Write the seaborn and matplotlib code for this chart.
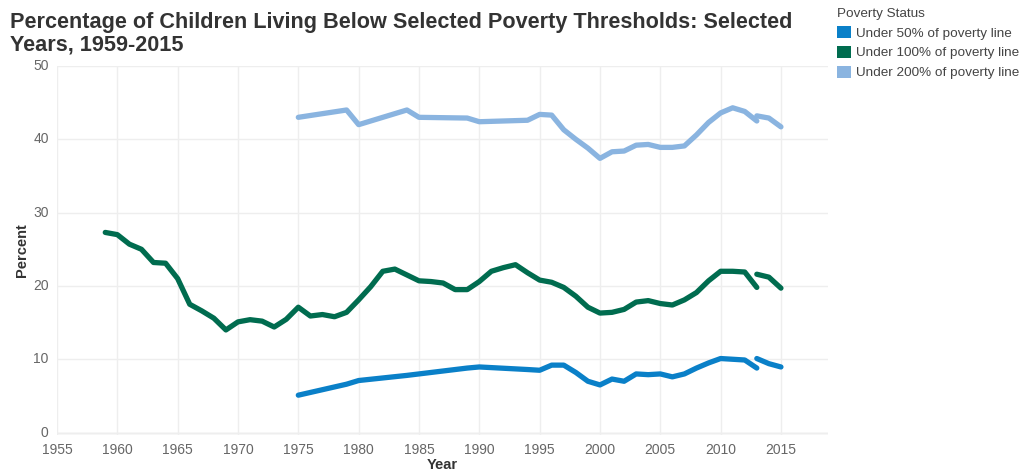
import matplotlib
matplotlib.use("Agg")
import matplotlib.pyplot as plt
import seaborn as sns
import pandas as pd
from matplotlib.patches import Patch

# ---- data ----
status_labels = ["Under 50% of poverty line", "Under 100% of poverty line", "Under 200% of poverty line"]
status_colors = ["#0a80c8", "#006c4f", "#8ab4e0"]

years_sparse = [1975, 1979, 1980, 1984, 1985, 1989, 1990, 1994, 1995, 1996, 1997, 1998, 1999,
                2000, 2001, 2002, 2003, 2004, 2005, 2006, 2007, 2008, 2009, 2010, 2011, 2012, 2013]
under50 = [5.1, 6.6, 7.1, 7.8, 8.0, 8.8, 8.95, 8.6, 8.5, 9.2, 9.2, 8.2, 7.0,
           6.5, 7.3, 7.0, 8.0, 7.9, 8.0, 7.6, 8.0, 8.8, 9.5, 10.1, 10.0, 9.9, 8.8]
under200 = [43.0, 44.0, 42.0, 44.0, 43.0, 42.9, 42.4, 42.6, 43.4, 43.3, 41.3, 40.0, 38.8,
            37.4, 38.3, 38.4, 39.2, 39.3, 38.9, 38.9, 39.1, 40.6, 42.3, 43.6, 44.3, 43.8, 42.5]

years_annual = list(range(1959, 2014))
under100 = [27.3, 27.0, 25.7, 25.0, 23.2, 23.1, 21.0, 17.5, 16.6, 15.6, 14.0,
            15.1, 15.4, 15.2, 14.4, 15.45, 17.1, 15.9, 16.1, 15.8, 16.4,
            18.1, 19.9, 22.0, 22.3, 21.5, 20.7, 20.6, 20.4, 19.5, 19.5,
            20.6, 22.0, 22.5, 22.9, 21.8, 20.8, 20.5, 19.8, 18.6, 17.1,
            16.3, 16.4, 16.8, 17.8, 18.0, 17.6, 17.4, 18.1, 19.1, 20.7,
            22.0, 22.0, 21.9, 19.8]

# revised series (2013 onward, drawn as a separate segment)
years_rev = [2013, 2014, 2015]
under50_rev = [10.1, 9.4, 8.95]
under100_rev = [21.6, 21.2, 19.7]
under200_rev = [43.2, 42.9, 41.7]

rows = []
for y, v in zip(years_sparse, under50):
    rows.append((y, v, status_labels[0], "50a"))
for y, v in zip(years_rev, under50_rev):
    rows.append((y, v, status_labels[0], "50b"))
for y, v in zip(years_annual, under100):
    rows.append((y, v, status_labels[1], "100a"))
for y, v in zip(years_rev, under100_rev):
    rows.append((y, v, status_labels[1], "100b"))
for y, v in zip(years_sparse, under200):
    rows.append((y, v, status_labels[2], "200a"))
for y, v in zip(years_rev, under200_rev):
    rows.append((y, v, status_labels[2], "200b"))
df = pd.DataFrame(rows, columns=["Year", "Percent", "Status", "Segment"])

# ---- plot ----
sns.set_theme(style="white")
plt.rcParams["font.family"] = ["Liberation Sans", "DejaVu Sans"]

fig = plt.figure(figsize=(10.23, 4.72), dpi=100)
ax = fig.add_axes([57 / 1023, 1 - 435 / 472, (828 - 57) / 1023, (435 - 66) / 472])

sns.lineplot(data=df, x="Year", y="Percent", hue="Status", units="Segment",
             estimator=None, hue_order=status_labels, palette=status_colors,
             linewidth=3.8, legend=False, ax=ax, solid_capstyle="round")

ax.set_xlim(1955, 2018.9)
ax.set_ylim(-0.33, 50)
ax.set_xticks(range(1955, 2016, 5))
ax.set_yticks(range(0, 51, 10))
ax.grid(True, color="#eeeeee", linewidth=1)
ax.set_axisbelow(True)
for s in ax.spines.values():
    s.set_visible(False)
ax.axhline(0, color="#e4e4e4", linewidth=1, zorder=0)
ax.tick_params(axis="both", length=0, labelsize=10, labelcolor="#666666", pad=6)
for lbl in ax.get_yticklabels():
    lbl.set_verticalalignment("center")

ax.set_xlabel("Year", fontsize=10.5, fontweight="bold", color="#333333", labelpad=0.5)
ax.set_ylabel("Percent", fontsize=10.5, fontweight="bold", color="#333333", labelpad=3)

fig.text(10 / 1023, 1 - 12 / 472,
         "Percentage of Children Living Below Selected Poverty Thresholds: Selected\nYears, 1959-2015",
         fontsize=15.6, fontweight="bold", color="#333333", va="top", ha="left", linespacing=1.12)

handles = [Patch(facecolor=c, edgecolor="none") for c in status_colors]
leg = fig.legend(handles, status_labels, title="Poverty Status", loc="upper left",
                 bbox_to_anchor=(829 / 1023, 1 - 0 / 472), frameon=False,
                 fontsize=9.7, title_fontsize=9.7, handlelength=1.0, handleheight=1.0,
                 handletextpad=0.4, labelspacing=0.45, borderaxespad=0.2)
leg._legend_box.align = "left"
for t in leg.get_texts():
    t.set_color("#444444")
leg.get_title().set_color("#444444")

fig.savefig("out.png", dpi=100)
